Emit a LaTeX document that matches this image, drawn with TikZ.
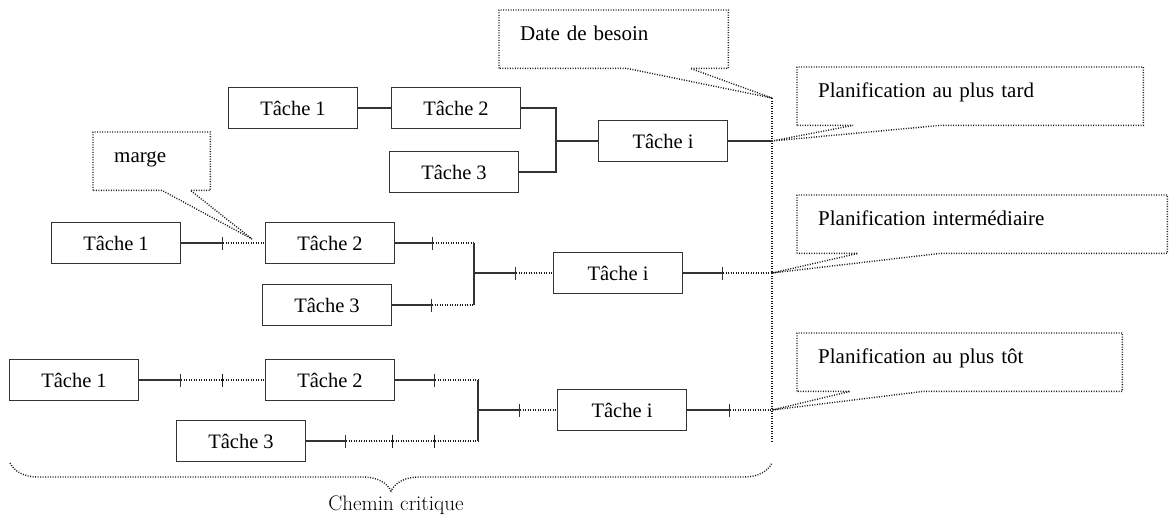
\documentclass[tikz,border=0pt]{standalone}
\usepackage{fontspec}
\newfontfamily\tms{Liberation Serif}
\usetikzlibrary{arrows.meta, decorations.pathreplacing}

\begin{document}
\begin{tikzpicture}[x=1pt, y=-1pt,
  task/.style={draw=black!80, line width=1.4pt, minimum width=129pt, minimum height=41pt,
    inner sep=0pt, font=\tms\fontsize{20.5}{24}\selectfont},
  note/.style={anchor=north west, inner xsep=21pt, inner ysep=0pt, text height=30pt,
    text depth=28pt, align=left, font=\tms\fontsize{21}{24}\selectfont},
  link/.style={draw=black!80, line width=1.4pt},
  halt/.style={link, -{Bar[width=13pt, line width=1.4pt]}},
  dots/.style={draw=black!90, line width=1.4pt, dash pattern=on 1pt off 1.5pt},
  dotsbar/.style={dots, -{Bar[width=13pt, line width=1.4pt]}}]
  \useasboundingbox (0,0) rectangle (1174,517);

  % Date de besoin
  \coordinate (besoin) at (772,98);
  \coordinate (besoin end) at (772,443);
  \draw[dots] (besoin) -- (besoin end);

  % Top row
  \node[task] (a1) at (293,108) {Tâche 1};
  \node[task] (a2) at (456,108) {Tâche 2};
  \node[task] (a3) at (454,172) {Tâche 3};
  \node[task] (ai) at (663,141) {Tâche i};
  \coordinate (ja) at (556,141);
  \draw[link] (a1) -- (a2);
  \draw[link] (a2.east) -| (ja) |- (a3.east);
  \draw[link] (ja) -- (ai);
  \draw[link] (ai.east) -- (ai.east -| besoin) coordinate (pa);

  % Middle row
  \node[task] (b1) at (116,243) {Tâche 1};
  \node[task] (b2) at (330,243) {Tâche 2};
  \node[task] (b3) at (327,305) {Tâche 3};
  \node[task] (bi) at (618,273) {Tâche i};
  \coordinate (jb) at (474,273);
  \draw[halt] (b1.east) -- ++(42,0) coordinate (b1e);
  \draw[dots] (b1e) -- (b2.west);
  \draw[halt] (b2.east) -- ++(38,0) coordinate (b2e);
  \draw[dots] (b2e) -- (b2e -| jb);
  \draw[halt] (b3.east) -- ++(40,0) coordinate (b3e);
  \draw[dots] (b3e) -- (b3e -| jb);
  \draw[link] (b2e -| jb) -- (b3e -| jb);
  \draw[halt] (jb) -- ++(42,0) coordinate (jbe);
  \draw[dots] (jbe) -- (bi.west);
  \draw[halt] (bi.east) -- ++(40,0) coordinate (bie);
  \draw[dots] (bie) -- (bie -| besoin) coordinate (pb);

  % Bottom row
  \node[task] (c1) at (74,380) {Tâche 1};
  \node[task] (c2) at (330,380) {Tâche 2};
  \node[task] (c3) at (241,441) {Tâche 3};
  \node[task] (ci) at (622,410) {Tâche i};
  \coordinate (jc) at (478,410);
  \draw[halt] (c1.east) -- ++(42,0) coordinate (c1e);
  \draw[dotsbar] (c1e) -- ++(42,0) coordinate (c1f);
  \draw[dots] (c1f) -- (c2.west);
  \draw[halt] (c2.east) -- ++(40,0) coordinate (c2e);
  \draw[dots] (c2e) -- (c2e -| jc);
  \draw[halt] (c3.east) -- ++(40,0) coordinate (c3e);
  \draw[dotsbar] (c3e) -- ++(47,0) coordinate (c3f);
  \draw[dotsbar] (c3f) -- ++(42,0) coordinate (c3g);
  \draw[dots] (c3g) -- (c3g -| jc);
  \draw[link] (c2e -| jc) -- (c3g -| jc);
  \draw[halt] (jc) -- ++(42,0) coordinate (jce);
  \draw[dots] (jce) -- (ci.west);
  \draw[halt] (ci.east) -- ++(43,0) coordinate (cie);
  \draw[dots] (cie) -- (cie -| besoin) coordinate (pc);

  % Callouts
  \coordinate (mg) at (252,239);
  \node[note, text width=187pt] (need) at (499,10) {Date de besoin};
  \node[note, text width=75pt] (marge) at (93,132) {marge};
  \node[note, text width=304pt] (late) at (797,67) {Planification au plus tard};
  \node[note, text width=328pt] (mid) at (797,195) {Planification intermédiaire};
  \node[note, text width=283pt] (early) at (797,333) {Planification au plus tôt};
  \draw[dots] (need.south west) -- (need.north west) -- (need.north east) -- (need.south east)
    -- ([xshift=-38pt]need.south east) -- (besoin) -- ([xshift=128pt]need.south west) -- cycle;
  \draw[dots] (marge.south west) -- (marge.north west) -- (marge.north east) -- (marge.south east)
    -- ([xshift=-20pt]marge.south east) -- (mg) -- ([xshift=69pt]marge.south west) -- cycle;
  \draw[dots] (late.south west) -- (late.north west) -- (late.north east) -- (late.south east)
    -- ([xshift=143pt]late.south west) -- (pa) -- ([xshift=56pt]late.south west) -- cycle;
  \draw[dots] (mid.south west) -- (mid.north west) -- (mid.north east) -- (mid.south east)
    -- ([xshift=143pt]mid.south west) -- (pb) -- ([xshift=61pt]mid.south west) -- cycle;
  \draw[dots] (early.south west) -- (early.north west) -- (early.north east) -- (early.south east)
    -- ([xshift=126pt]early.south west) -- (pc) -- ([xshift=53pt]early.south west) -- cycle;

  % Chemin critique
  \coordinate (cc1) at (10,463);
  \coordinate (cc2) at (772,463);
  \draw[dots, decorate, decoration={brace, mirror, amplitude=28pt}] (cc1) -- (cc2);
  \node[font=\fontsize{21}{25}\selectfont] (chemin) at (396,505) {Chemin critique};
\end{tikzpicture}
\end{document}
